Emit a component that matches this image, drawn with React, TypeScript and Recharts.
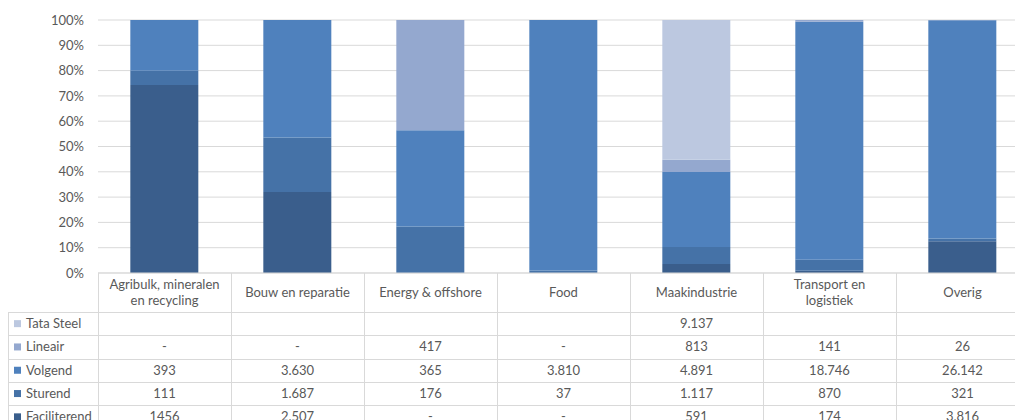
import { BarChart, Bar, XAxis, YAxis, CartesianGrid, Legend } from "recharts";

// ── Data ──────────────────────────────────────────────────

const categories = [
  "Agribulk, mineralen en recycling",
  "Bouw en reparatie",
  "Energy & offshore",
  "Food",
  "Maakindustrie",
  "Transport en logistiek",
  "Overig",
];

// how each category name wraps inside its header cell
const categoryLines = [
  ["Agribulk, mineralen", "en recycling"],
  ["Bouw en reparatie"],
  ["Energy & offshore"],
  ["Food"],
  ["Maakindustrie"],
  ["Transport en", "logistiek"],
  ["Overig"],
];

// table cells exactly as printed; "-" and "" count as zero
const tataSteel = ["", "", "", "", "9.137", "", ""];
const lineair = ["-", "-", "417", "-", "813", "141", "26"];
const volgend = ["393", "3.630", "365", "3.810", "4.891", "18.746", "26.142"];
const sturend = ["111", "1.687", "176", "37", "1.117", "870", "321"];
const faciliterend = ["1456", "2.507", "-", "-", "591", "174", "3.816"];

const yTicks = [0, 0.1, 0.2, 0.3, 0.4, 0.5, 0.6, 0.7, 0.8, 0.9, 1];

// ── Styles ────────────────────────────────────────────────

const FONT = "Lato, 'Open Sans', sans-serif";
const TEXT = "#595959";
const GRID = "#d9d9d9";

const CHART_W = 1036;
const CHART_H = 420;
const Y_AXIS_W = 98;
const MARGIN = { top: 20, right: 7, bottom: 0, left: 0 };
const X_AXIS_H = 147;
const COL_W = (CHART_W - Y_AXIS_W - MARGIN.right) / categories.length;
const HEADER_H = 39;
const ROW_H = 23.3;
const LABEL_LEFT = 8;

// table rows, top to bottom (reverse of the stacking order)
const series = [
  { key: "tataSteel", name: "Tata Steel", color: "#bcc8e0", cells: tataSteel },
  { key: "lineair", name: "Lineair", color: "#94a8cf", cells: lineair },
  { key: "volgend", name: "Volgend", color: "#4f81bd", cells: volgend },
  { key: "sturend", name: "Sturend", color: "#4572a7", cells: sturend },
  { key: "faciliterend", name: "Faciliterend", color: "#3a5e8c", cells: faciliterend },
];

// ── Helpers ───────────────────────────────────────────────

const parseCell = (s: string) => (s === "" || s === "-" ? 0 : Number(s.replace(/\./g, "")));

const chartData = categories.map((name, i) => {
  const row: Record<string, string | number> = { name };
  series.forEach((s) => {
    row[s.key] = parseCell(s.cells[i]);
  });
  return row;
});

const crisp = (v: number) => Math.round(v) + 0.5;

// ── Sub-components ────────────────────────────────────────

// one column of the data table, hung under each category tick
const TableColumn = (props: any) => {
  const { x, y, payload } = props;
  const i = payload.index;
  const left = crisp(x - COL_W / 2);
  const right = crisp(x + COL_W / 2);
  const bottom = y + HEADER_H + ROW_H * series.length + 10;
  const lines = categoryLines[i];
  const headerMid = y + HEADER_H / 2 + 4.5;

  return (
    <g fontFamily={FONT} fontSize={13} fill={TEXT}>
      <line x1={left} x2={left} y1={y} y2={bottom} stroke={GRID} />
      {i === categories.length - 1 && (
        <line x1={right} x2={right} y1={y} y2={bottom} stroke={GRID} />
      )}
      <text textAnchor="middle" fill={TEXT}>
        {lines.map((l, k) => (
          <tspan key={k} x={x} y={headerMid + (k - (lines.length - 1) / 2) * 15.5}>
            {l}
          </tspan>
        ))}
      </text>
      {series.map((s, r) => {
        const top = y + HEADER_H + r * ROW_H;
        return (
          <g key={s.key}>
            <line x1={left} x2={right} y1={crisp(top)} y2={crisp(top)} stroke={GRID} />
            <text x={x} y={top + ROW_H / 2 + 4.5} textAnchor="middle" fill={TEXT}>
              {s.cells[i]}
            </text>
          </g>
        );
      })}
    </g>
  );
};

// series names down the left edge of the table
const LabelColumn = () => {
  const top = MARGIN.top + (CHART_H - MARGIN.top - MARGIN.bottom - X_AXIS_H) + HEADER_H;
  return (
    <svg
      width={Y_AXIS_W + 1}
      height={CHART_H}
      style={{ position: "absolute", left: 0, top: 0, overflow: "visible" }}
    >
      <line
        x1={LABEL_LEFT + 0.5}
        x2={LABEL_LEFT + 0.5}
        y1={top}
        y2={CHART_H + 10}
        stroke={GRID}
      />
      {series.map((s, r) => {
        const y = top + r * ROW_H;
        return (
          <g key={s.key}>
            <line x1={LABEL_LEFT} x2={Y_AXIS_W} y1={crisp(y)} y2={crisp(y)} stroke={GRID} />
            <rect x={14} y={y + ROW_H / 2 - 3.5} width={7} height={7} fill={s.color} />
            <text
              x={26}
              y={y + ROW_H / 2 + 4.5}
              fontFamily={FONT}
              fontSize={13}
              fill={TEXT}
            >
              {s.name}
            </text>
          </g>
        );
      })}
    </svg>
  );
};

// ── Component ─────────────────────────────────────────────

export default function App() {
  const stackOrder = [...series].reverse();

  return (
    <div
      style={{
        position: "absolute",
        left: 0,
        top: 0,
        width: 1015,
        height: 420,
        overflow: "hidden",
        background: "#fff",
      }}
    >
      <BarChart
        width={CHART_W}
        height={CHART_H}
        data={chartData}
        margin={MARGIN}
        stackOffset="expand"
        barCategoryGap="24.3%"
      >
        <CartesianGrid vertical={false} stroke={GRID} />
        <XAxis
          dataKey="name"
          height={X_AXIS_H}
          axisLine={{ stroke: GRID }}
          tickLine={false}
          tickSize={0}
          tickMargin={0}
          interval={0}
          tick={(p: any) => <TableColumn {...p} />}
        />
        <YAxis
          width={Y_AXIS_W}
          ticks={yTicks}
          domain={[0, 1]}
          axisLine={false}
          tickLine={false}
          tickMargin={8}
          tickFormatter={(v: number) => `${Math.round(v * 100)}%`}
          tick={{ fontFamily: FONT, fontSize: 13, fill: TEXT }}
        />
        <Legend
          content={() => <LabelColumn />}
          wrapperStyle={{
            position: "absolute",
            left: 0,
            top: 0,
            width: 0,
            height: 0,
            overflow: "visible",
          }}
        />
        {stackOrder.map((s) => (
          <Bar
            key={s.key}
            dataKey={s.key}
            name={s.name}
            stackId="a"
            fill={s.color}
            isAnimationActive={false}
          />
        ))}
      </BarChart>
    </div>
  );
}
